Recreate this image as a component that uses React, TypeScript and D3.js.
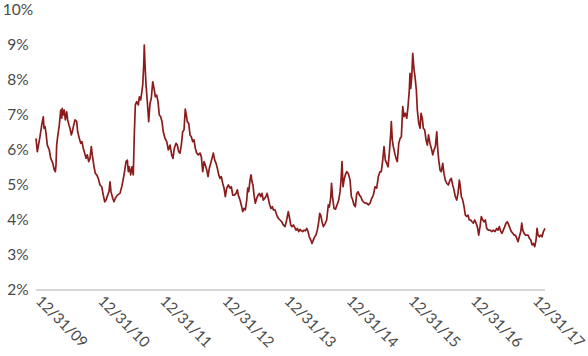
import React from "react";
import * as d3 from "d3";

// x values: years elapsed since 12/31/09; y values: yield in percent
const yTicks = [2, 3, 4, 5, 6, 7, 8, 9, 10];
const xTickYears = [0, 1, 2, 3, 4, 5, 6, 7, 8];
const xTickLabels = ["12/31/09", "12/31/10", "12/31/11", "12/31/12", "12/31/13", "12/31/14", "12/31/15", "12/31/16", "12/31/17"];

const y2010: [number, number][] = [
  [0.000, 6.33], [0.021, 5.95], [0.064, 6.38], [0.092, 6.71], [0.118, 6.95], [0.129, 6.62], [0.145, 6.67], [0.161, 6.49],
  [0.182, 6.14], [0.214, 6.00], [0.237, 5.76], [0.269, 5.63], [0.295, 5.43], [0.311, 5.38], [0.322, 5.57], [0.333, 6.14],
  [0.349, 6.38], [0.375, 6.71], [0.398, 7.14], [0.414, 6.91], [0.423, 7.19], [0.439, 7.00], [0.456, 7.14], [0.472, 6.86],
  [0.494, 7.09], [0.510, 6.86], [0.531, 6.71], [0.547, 6.62], [0.568, 6.43], [0.584, 6.52], [0.607, 6.71], [0.628, 6.86],
  [0.655, 6.81], [0.671, 6.52], [0.697, 6.33], [0.720, 6.19], [0.740, 6.24], [0.761, 6.05], [0.784, 5.91], [0.805, 5.76],
  [0.826, 5.86], [0.848, 5.67], [0.869, 5.76], [0.890, 6.10], [0.906, 5.86], [0.934, 5.52], [0.955, 5.33], [0.977, 5.29],
];
const y2011: [number, number][] = [
  [1.003, 5.19], [1.030, 5.00], [1.058, 4.95], [1.083, 4.71], [1.106, 4.52], [1.127, 4.57], [1.154, 4.71], [1.175, 4.81],
  [1.191, 5.09], [1.207, 4.81], [1.235, 4.62], [1.256, 4.52], [1.277, 4.62], [1.309, 4.71], [1.352, 4.76], [1.380, 4.95],
  [1.417, 5.29], [1.449, 5.67], [1.470, 5.71], [1.486, 5.38], [1.502, 5.52], [1.524, 5.29], [1.545, 5.52], [1.566, 5.29],
  [1.582, 6.43], [1.599, 7.29], [1.621, 7.38], [1.647, 7.29], [1.663, 7.52], [1.685, 7.43], [1.701, 7.62], [1.718, 7.86],
  [1.734, 8.43], [1.743, 9.00], [1.755, 8.43], [1.771, 7.86], [1.792, 7.38], [1.814, 6.81], [1.835, 7.33], [1.856, 7.48],
  [1.879, 7.95], [1.900, 7.76], [1.921, 7.52], [1.943, 7.57], [1.964, 7.38], [1.985, 7.00],
];
const y2012: [number, number][] = [
  [2.007, 6.95], [2.028, 6.81], [2.049, 6.52], [2.077, 6.33], [2.104, 6.24], [2.130, 6.00], [2.157, 6.14], [2.184, 5.86],
  [2.205, 5.76], [2.226, 6.05], [2.254, 6.19], [2.275, 6.14], [2.297, 5.95], [2.318, 5.91], [2.339, 6.14], [2.361, 6.52],
  [2.382, 6.57], [2.403, 7.17], [2.419, 7.00], [2.435, 6.81], [2.458, 6.76], [2.479, 6.43], [2.500, 6.38], [2.522, 6.24],
  [2.543, 6.29], [2.564, 6.05], [2.587, 5.91], [2.613, 5.86], [2.640, 5.91], [2.661, 5.81], [2.684, 5.38], [2.705, 5.67],
  [2.725, 5.57], [2.748, 5.43], [2.769, 5.24], [2.790, 5.48], [2.812, 5.62], [2.833, 5.76], [2.854, 5.91], [2.877, 5.71],
  [2.898, 5.62], [2.919, 5.48], [2.941, 5.29], [2.962, 5.19], [2.983, 5.24],
];
const y2013: [number, number][] = [
  [3.005, 5.05], [3.027, 4.91], [3.047, 4.67], [3.070, 4.91], [3.096, 5.00], [3.123, 4.91], [3.144, 4.95], [3.167, 4.71],
  [3.192, 4.71], [3.220, 4.76], [3.241, 4.86], [3.257, 4.71], [3.284, 4.57], [3.311, 4.38], [3.327, 4.24], [3.348, 4.33],
  [3.369, 4.29], [3.392, 4.57], [3.408, 4.91], [3.424, 4.81], [3.445, 5.14], [3.461, 5.29], [3.477, 5.09], [3.493, 5.00],
  [3.509, 4.71], [3.530, 4.48], [3.553, 4.62], [3.574, 4.71], [3.595, 4.76], [3.617, 4.67], [3.638, 4.76], [3.659, 4.57],
  [3.681, 4.62], [3.702, 4.67], [3.719, 4.76], [3.739, 4.62], [3.762, 4.43], [3.783, 4.33], [3.804, 4.38], [3.820, 4.29],
  [3.847, 4.29], [3.875, 4.14], [3.900, 4.05], [3.928, 4.00], [3.955, 3.95], [3.981, 3.86],
];
const y2014: [number, number][] = [
  [4.008, 3.81], [4.035, 4.00], [4.061, 4.24], [4.077, 4.10], [4.100, 3.86], [4.121, 3.81], [4.142, 3.86], [4.164, 3.79],
  [4.185, 3.71], [4.206, 3.76], [4.229, 3.67], [4.250, 3.73], [4.271, 3.69], [4.293, 3.67], [4.314, 3.71], [4.335, 3.69],
  [4.358, 3.76], [4.378, 3.67], [4.399, 3.52], [4.422, 3.43], [4.443, 3.33], [4.464, 3.43], [4.486, 3.52], [4.507, 3.57],
  [4.528, 3.71], [4.551, 3.95], [4.567, 4.19], [4.583, 4.14], [4.604, 3.95], [4.625, 3.81], [4.652, 3.89], [4.679, 4.00],
  [4.705, 4.43], [4.721, 4.37], [4.744, 4.64], [4.757, 5.05], [4.773, 4.66], [4.797, 4.33], [4.821, 4.31], [4.845, 4.43],
  [4.873, 4.57], [4.894, 4.81], [4.910, 5.14], [4.926, 5.67], [4.942, 4.95], [4.958, 5.14], [4.979, 5.29],
];
const y2015: [number, number][] = [
  [5.002, 5.38], [5.027, 5.33], [5.055, 5.14], [5.076, 4.67], [5.098, 4.57], [5.119, 4.43], [5.140, 4.38], [5.163, 4.76],
  [5.184, 4.81], [5.205, 4.71], [5.227, 4.67], [5.248, 4.57], [5.269, 4.52], [5.296, 4.48], [5.324, 4.48], [5.350, 4.43],
  [5.377, 4.48], [5.404, 4.62], [5.430, 4.71], [5.457, 4.95], [5.484, 4.91], [5.510, 5.24], [5.537, 5.38], [5.558, 5.38],
  [5.581, 5.71], [5.602, 6.10], [5.623, 5.71], [5.645, 5.62], [5.666, 5.52], [5.687, 5.91], [5.710, 6.48], [5.719, 6.81],
  [5.735, 6.29], [5.751, 6.10], [5.774, 5.91], [5.795, 5.76], [5.816, 5.67], [5.839, 6.19], [5.860, 6.33], [5.881, 6.38],
  [5.903, 7.24], [5.924, 6.95], [5.945, 7.05], [5.968, 6.91], [5.988, 7.24],
];
const y2016: [number, number][] = [
  [6.009, 7.71], [6.020, 8.19], [6.032, 7.76], [6.048, 8.09], [6.064, 8.76], [6.085, 8.29], [6.101, 8.09], [6.122, 7.71],
  [6.138, 7.14], [6.161, 6.76], [6.182, 6.62], [6.198, 7.05], [6.218, 6.91], [6.235, 6.62], [6.257, 6.57], [6.278, 6.29],
  [6.299, 6.14], [6.318, 6.43], [6.342, 6.19], [6.370, 6.00], [6.386, 5.86], [6.407, 6.00], [6.428, 6.10], [6.451, 6.52],
  [6.467, 6.00], [6.483, 5.71], [6.503, 5.43], [6.524, 5.38], [6.547, 5.62], [6.567, 5.33], [6.588, 5.14], [6.611, 5.05],
  [6.637, 5.00], [6.664, 5.14], [6.685, 5.19], [6.707, 5.00], [6.728, 4.86], [6.749, 4.67], [6.772, 4.57], [6.793, 4.76],
  [6.814, 5.14], [6.830, 4.95], [6.846, 4.67], [6.869, 4.57], [6.890, 4.38], [6.911, 4.14], [6.933, 4.10], [6.954, 4.14],
  [6.975, 4.00], [6.998, 4.00],
];
const y2017: [number, number][] = [
  [7.018, 3.95], [7.039, 3.91], [7.062, 4.00], [7.083, 3.91], [7.104, 3.81], [7.126, 3.57], [7.147, 3.81], [7.168, 4.10],
  [7.191, 4.00], [7.211, 3.95], [7.232, 4.00], [7.255, 3.76], [7.281, 3.71], [7.308, 3.71], [7.336, 3.67], [7.361, 3.71],
  [7.389, 3.67], [7.416, 3.76], [7.437, 3.71], [7.458, 3.81], [7.481, 3.67], [7.501, 3.62], [7.522, 3.71], [7.545, 3.81],
  [7.566, 3.91], [7.587, 3.95], [7.609, 3.86], [7.630, 3.76], [7.651, 3.67], [7.674, 3.62], [7.695, 3.57], [7.716, 3.57],
  [7.738, 3.48], [7.759, 3.38], [7.780, 3.52], [7.803, 3.67], [7.819, 3.91], [7.835, 3.71], [7.856, 3.62], [7.877, 3.57],
  [7.899, 3.57], [7.920, 3.57], [7.941, 3.48], [7.964, 3.43], [7.985, 3.29],
];
const y2018: [number, number][] = [
  [8.006, 3.33], [8.028, 3.24], [8.049, 3.43], [8.065, 3.76], [8.081, 3.57], [8.102, 3.52], [8.125, 3.57], [8.146, 3.52],
  [8.167, 3.67], [8.193, 3.76],
];

export default function App() {
  const W = 588;
  const H = 356;
  const data = [...y2010, ...y2011, ...y2012, ...y2013, ...y2014, ...y2015, ...y2016, ...y2017, ...y2018];
  const x = d3.scaleLinear().domain([0, 8.193]).range([36, 545]);
  const y = d3.scaleLinear().domain([2, 10]).range([290, 10]);
  const line = d3
    .line<[number, number]>()
    .x((d) => x(d[0]))
    .y((d) => y(d[1]));
  const font = "Lato, 'Open Sans', sans-serif";
  return (
    <svg width={W} height={H} style={{ position: "absolute", left: 0, top: 0 }}>
      <rect width={W} height={H} fill="#fff" />
      {yTicks.map((t) => (
        <text
          key={t}
          x={18}
          y={y(t) - 0.8}
          textAnchor="middle"
          dominantBaseline="central"
          fontFamily={font}
          fontSize={15.5}
          fill="#4a4a4a"
        >
          {t}%
        </text>
      ))}
      <line x1={x(0)} x2={x(8.193)} y1={y(2)} y2={y(2)} stroke="#d6d6d6" strokeWidth={2} />
      {xTickYears.map((t, i) => (
        <text
          key={t}
          transform={`translate(${x(t) - 1},${y(2) + 12}) rotate(45)`}
          textAnchor="start"
          fontFamily={font}
          fontSize={15}
          fill="#4a4a4a"
        >
          {xTickLabels[i]}
        </text>
      ))}
      <path d={line(data) || ""} fill="none" stroke="#8c1c1c" strokeWidth={1.7} strokeLinejoin="round" />
    </svg>
  );
}
